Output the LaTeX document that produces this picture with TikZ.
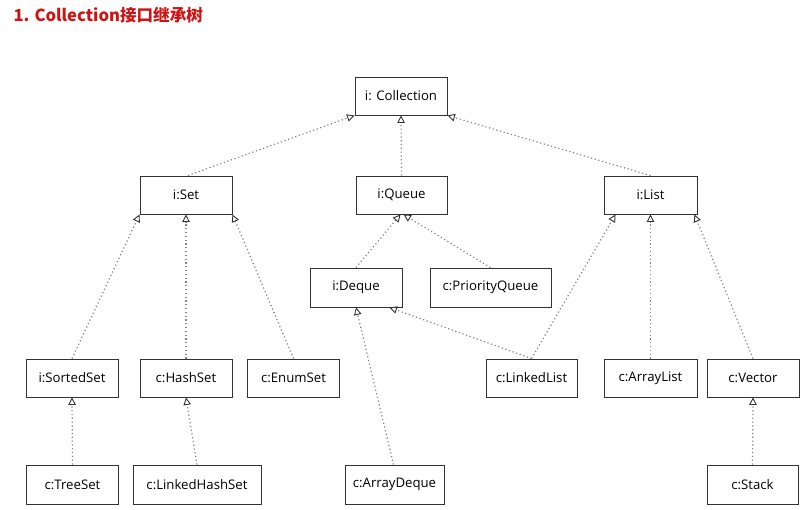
\documentclass[tikz,border=0pt]{standalone}
\usepackage{fontspec}
\setmainfont{Open Sans}
\newfontfamily\cjk{Noto Sans CJK SC}
\usetikzlibrary{arrows.meta}
\definecolor{titlered}{RGB}{204,20,20}
\definecolor{boxline}{RGB}{50,50,50}
\definecolor{dotline}{RGB}{130,130,130}
\tikzset{
  umlbox/.style={draw=boxline, line width=0.9pt, minimum height=38pt, inner sep=0pt,
    font=\fontsize{13.2}{15}\selectfont, text=black, anchor=center},
  inherit/.style={draw=dotline, line width=1.2pt, dash pattern=on 1.2pt off 2.6pt,
    -{Triangle[open, length=7.5pt, width=7.5pt, line width=0.9pt, color=boxline]}}
}
\begin{document}
\begin{tikzpicture}[x=1pt,y=-1pt]
\useasboundingbox (0,0) rectangle (812,510);
\node[anchor=west, text=titlered, font=\cjk\bfseries\fontsize{16.6}{18}\selectfont] (title) at (10,15) {1. Collection接口继承树};

\node[umlbox, minimum width=92pt] (coll) at (401,96) {i: Collection};
\node[umlbox, minimum width=92pt] (set) at (186,195) {i:Set};
\node[umlbox, minimum width=91pt] (queue) at (401.5,195) {i:Queue};
\node[umlbox, minimum width=93pt] (list) at (650.5,195) {i:List};
\node[umlbox, minimum width=92pt, minimum height=39pt] (deque) at (356,287.5) {i:Deque};
\node[umlbox, minimum width=121pt, minimum height=39pt] (pq) at (490.5,287.5) {c:PriorityQueue};
\node[umlbox, minimum width=92pt] (sorted) at (72,378) {i:SortedSet};
\node[umlbox, minimum width=92pt] (hash) at (186,378) {c:HashSet};
\node[umlbox, minimum width=92pt] (enum) at (293.5,378) {c:EnumSet};
\node[umlbox, minimum width=91pt] (linked) at (531.5,378) {c:LinkedList};
\node[umlbox, minimum width=93pt] (alist) at (650.5,378) {c:ArrayList};
\node[umlbox, minimum width=92pt] (vector) at (753,378) {c:Vector};
\node[umlbox, minimum width=92pt, minimum height=39pt] (tree) at (72.5,484.5) {c:TreeSet};
\node[umlbox, minimum width=128pt, minimum height=39pt] (lhs) at (197,484.5) {c:LinkedHashSet};
\node[umlbox, minimum width=99pt, minimum height=39pt] (adeque) at (394.5,484.5) {c:ArrayDeque};
\node[umlbox, minimum width=91pt, minimum height=39pt] (stack) at (752.5,484.5) {c:Stack};

\draw[inherit] ([xshift=2pt]set.north) -- (coll.south west);
\draw[inherit] (queue.north) -- (coll.south);
\draw[inherit] (list.north) -- (coll.south east);
\draw[inherit] (sorted.north) -- (set.south west);
\draw[inherit] (hash.north) -- (set.south);
\draw[inherit] (enum.north) -- (set.south east);
\draw[inherit] (deque.north) -- ([xshift=-1pt]queue.south);
\draw[inherit] (pq.north) -- ([xshift=2pt]queue.south);
\draw[inherit] (linked.north) -- ([xshift=12pt]list.south west);
\draw[inherit] (linked.north) -- ([xshift=-13pt]deque.south east);
\draw[inherit] (alist.north) -- (list.south);
\draw[inherit] (vector.north) -- ([xshift=-3pt]list.south east);
\draw[inherit] (tree.north) -- (sorted.south);
\draw[inherit] (lhs.north) -- (hash.south);
\draw[inherit] ([xshift=-1pt]adeque.north) -- (deque.south);
\draw[inherit] (stack.north) -- (vector.south);
\end{tikzpicture}
\end{document}
